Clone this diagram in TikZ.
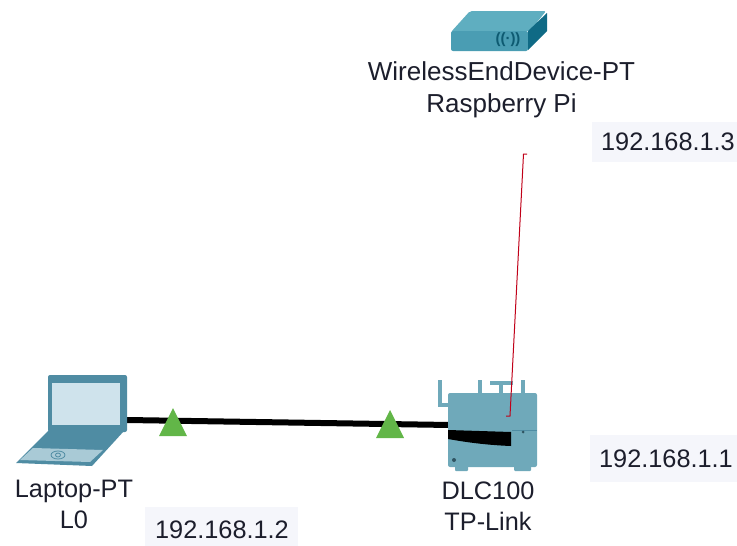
\documentclass[tikz,border=0pt]{standalone}
\usepackage{fontspec}
\setmainfont{Liberation Sans}
\definecolor{devteal}{HTML}{6FA9BA}
\definecolor{devdark}{HTML}{4F8CA3}
\definecolor{apfront}{HTML}{4A9DB3}
\definecolor{aptop}{HTML}{5FAEC0}
\definecolor{apside}{HTML}{0F6A85}
\definecolor{screen}{HTML}{CFE3EC}
\definecolor{kbd}{HTML}{A9CAD6}
\definecolor{ipbg}{HTML}{F5F6FB}
\definecolor{lbl}{HTML}{1C1E2C}
\definecolor{linkgreen}{HTML}{62B648}
\definecolor{wifi}{HTML}{C00018}
\tikzset{
  x=1pt,y=-1pt,
  devlabel/.style={align=center,text=lbl,font=\fontsize{25.3}{31}\selectfont,inner sep=0pt},
  aplabel/.style={align=center,text=lbl,font=\fontsize{26}{31.5}\selectfont,inner sep=0pt},
  iplabel/.style={fill=ipbg,text=lbl,font=\fontsize{25.3}{30}\selectfont,inner sep=0pt,anchor=center},
  linkstate/.style={fill=linkgreen},
  cable/.style={line width=6pt,black},
  radiolink/.style={draw=wifi,line width=1pt},
}
\begin{document}
\begin{tikzpicture}
\useasboundingbox (0,0) rectangle (737,546);
% address backgrounds
\fill[ipbg] (592,122) rectangle (737,162);
\fill[ipbg] (590,435) rectangle (737,482);
\fill[ipbg] (145,507) rectangle (298,546);
\node[iplabel] (ipthree) at (668,142) {192.168.1.3};
\node[iplabel] (ipone) at (666,459) {192.168.1.1};
\node[iplabel] (iptwo) at (222,530) {192.168.1.2};

% named connection points
\coordinate (laptopport) at (127,420);
\coordinate (routerport) at (450,425);
\coordinate (wifitop) at (523.5,154);
\coordinate (wifibottom) at (510,416);

% cable
\draw[cable] (laptopport) -- (routerport);

% laptop
\fill[devdark,rounded corners=2pt] (48,375) -- (127,375) -- (127,432) -- (48,432) -- cycle;
\fill[screen] (52,383) rectangle (120,425);
\fill[devdark] (48,431) -- (124,431) -- (92,466) -- (16,463) -- cycle;
\fill[kbd] (33,448) -- (103,450) -- (90,462) -- (20,460) -- cycle;
\draw[devdark,line width=0.8pt] (58,455) ellipse (7 and 4);
\draw[devdark,line width=0.8pt] (58,455) ellipse (2.5 and 2);

% wireless device
\fill[aptop,rounded corners=2pt] (451,32) -- (470,11) -- (546,11) -- (530,31) -- cycle;
\fill[apfront,rounded corners=2pt] (451,31) -- (528,31) -- (528,51) -- (451,51) -- cycle;
\fill[apside] (528,31) -- (547,13) -- (547,31) -- (528,50) -- cycle;
\node[text=apside!85!black,font=\fontsize{15}{15}\selectfont\bfseries,inner sep=0pt] (wifiglyph) at (508,40) {((\textperiodcentered))};

% router
\begin{scope}[devteal,line width=3.4pt]
\draw (440,380) -- (440,405) -- (450,405);
\draw (480,380) -- (480,394);
\draw (523,380) -- (523,394);
\draw (490,383) -- (513,383);
\draw[line width=4pt] (501,383) -- (501,394);
\end{scope}
\fill[devteal,rounded corners=2pt] (448,393) rectangle (537,467);
\fill[devteal,rounded corners=1pt] (455,466) rectangle (468,471);
\fill[devteal,rounded corners=1pt] (514,466) rectangle (531,471);
\fill[black] (448,430) -- (511,432) -- (511,446) .. controls (485,445) and (465,442) .. (448,439) -- cycle;
\draw[devdark,line width=0.3pt] (512,430) -- (537,430);
\fill[devdark!60!black] (523,432) circle (1.5);
\fill[devdark!60!black] (454,460) circle (2);

% link lights
\fill[linkstate] (159,436) -- (173,408) -- (187,436) -- cycle;
\fill[linkstate] (376,438) -- (390,410) -- (404,438) -- cycle;

% wireless link
\draw[radiolink] (527,154) -- (wifitop) -- (wifibottom) -- (506,416);

% labels
\node[aplabel] (apname) at (501.5,90) {WirelessEndDevice-PT\\Raspberry Pi};
\node[devlabel] (laptopname) at (74,504) {Laptop-PT\\L0};
\node[devlabel] (routername) at (488,506) {DLC100\\TP-Link};
\end{tikzpicture}
\end{document}
